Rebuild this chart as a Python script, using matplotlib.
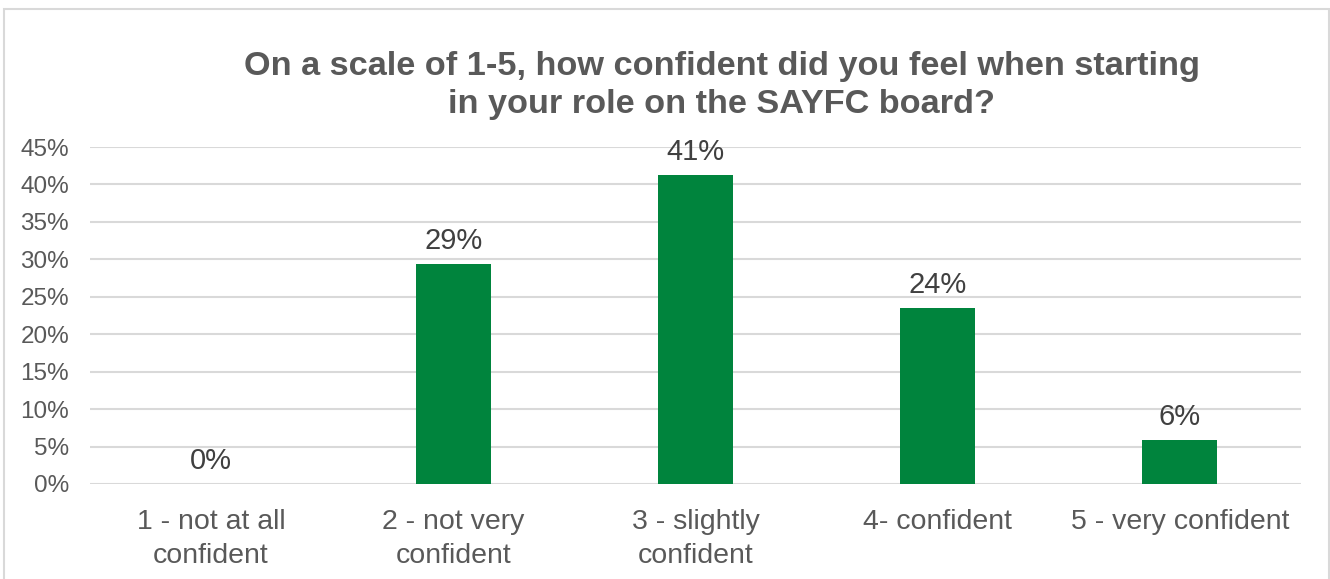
import matplotlib.pyplot as plt
from matplotlib.patches import Rectangle

# survey answers (share of board members)
categories = ["1 - not at all\nconfident", "2 - not very\nconfident", "3 - slightly\nconfident",
              "4- confident", "5 - very confident"]
shares = [0.0, 29.4, 41.2, 23.5, 5.9]
yticks = [0, 5, 10, 15, 20, 25, 30, 35, 40, 45]

title = "On a scale of 1-5, how confident did you feel when starting\nin your role on the SAYFC board?"

plt.rcParams['font.family'] = ['Liberation Sans', 'DejaVu Sans']

fig = plt.figure(figsize=(13.3, 5.79), dpi=100)
W, H = 1330, 579
ax = fig.add_axes([90 / W, 1 - 484 / H, (1301 - 90) / W, (484 - 147) / H])

# light frame round the chart
fig.patches.append(Rectangle((4 / W, -0.1), (1329 - 4) / W, 1.1 - 9 / H,
                             transform=fig.transFigure, fill=False,
                             edgecolor='#d9d9d9', linewidth=1.5))

x = range(len(categories))
ax.bar(x, shares, width=0.31, color='#00843d', zorder=3)

for xi, v in zip(x, shares):
    ax.annotate(f"{v:.0f}%", (xi, v), xytext=(0, 11), textcoords='offset points',
                ha='center', va='baseline', fontsize=21, color='#404040')

ax.set_xlim(-0.5, len(categories) - 0.5)
ax.set_ylim(0, 45)
ax.set_yticks(yticks)
ax.set_yticklabels([f"{t}%" for t in yticks], fontsize=17.5, color='#595959')
ax.set_xticks(list(x))
ax.set_xticklabels(categories, fontsize=20.5, color='#595959', linespacing=1.4)
ax.tick_params(axis='both', length=0)
ax.tick_params(axis='y', pad=15)
ax.tick_params(axis='x', pad=18)

ax.grid(axis='y', color='#d9d9d9', linewidth=1.5, zorder=0)
for s in ax.spines.values():
    s.set_visible(False)

fig.text(722 / W, 1 - 51 / H, title, ha='center', va='top', fontsize=24.7,
         fontweight='bold', color='#595959', linespacing=1.3)

fig.savefig("out.png", dpi=100)
